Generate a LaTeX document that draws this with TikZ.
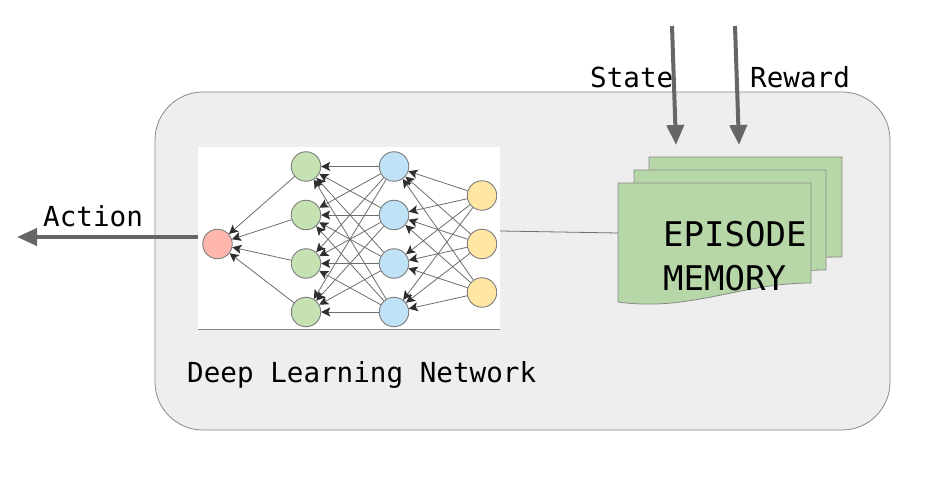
\documentclass[tikz,border=0pt]{standalone}
\usepackage{fontspec}
\setmonofont{DejaVu Sans Mono}
\usetikzlibrary{arrows.meta}
\definecolor{boxfill}{HTML}{EEEEEE}
\definecolor{boxline}{HTML}{888888}
\definecolor{nred}{HTML}{FFB6AC}
\definecolor{ngreen}{HTML}{C6E2B3}
\definecolor{nblue}{HTML}{C0E2F6}
\definecolor{nyellow}{HTML}{FFE6A3}
\definecolor{memgreen}{HTML}{B8D7A9}
\definecolor{bigarrow}{HTML}{666666}
\definecolor{nnline}{HTML}{6E6E6E}
\definecolor{tipcol}{HTML}{2E2E2E}
\begin{document}
\begin{tikzpicture}[x=1pt,y=-1pt,
  neuron/.style={circle, draw=nnline!90, line width=0.9pt, minimum size=29.5pt, inner sep=0pt},
  nnedge/.style={draw=nnline, line width=0.8pt, -{Stealth[length=9pt,width=9pt,inset=2pt,color=tipcol]}},
  bigarr/.style={draw=bigarrow, line width=4pt, -{Triangle[length=20pt,width=17pt]}},
  lbl/.style={font=\ttfamily\fontsize{27.6}{30}\selectfont, inner sep=0pt},
  memlbl/.style={font=\ttfamily\fontsize{34}{40}\selectfont, inner sep=0pt},
  sheet/.style={fill=memgreen, draw=boxline, line width=0.8pt}]
\useasboundingbox (0,0) rectangle (936,478);
\fill[white] (0,0) rectangle (936,478);

% agent box
\node[draw=boxline, fill=boxfill, line width=0.8pt, rounded corners=48pt,
      minimum width=735pt, minimum height=338pt, inner sep=0pt] (agent) at (522.5,261) {};

% network panel
\node[fill=white, minimum width=302pt, minimum height=182pt, inner sep=0pt] (panel) at (349,238) {};
\draw[boxline, line width=0.8pt] (panel.south west) -- (panel.south east);

% neurons
\node[neuron, fill=nred] (r) at (217.5,244) {};
\foreach \i/\yy in {1/166.5,2/215,3/263.5,4/312} {
  \node[neuron, fill=ngreen] (g\i) at (306,\yy) {};
  \node[neuron, fill=nblue] (b\i) at (394,\yy) {};
}
\foreach \i/\yy in {1/195.5,2/244,3/292.5} {
  \node[neuron, fill=nyellow] (y\i) at (482,\yy) {};
}

% edges
\foreach \i in {1,...,4} { \draw[nnedge] (g\i) -- (r); }
\foreach \i in {1,...,4} { \foreach \j in {1,...,4} { \draw[nnedge] (b\j) -- (g\i); } }
\foreach \i in {1,...,4} { \foreach \j in {1,...,3} { \draw[nnedge] (y\j) -- (b\i); } }

\node[lbl, anchor=base west] (dln) at (187,382) {Deep Learning Network};

% memory sheets
\draw[sheet] (649,157) -- (842,157) -- (842,257) .. controls (800,257) and (760,262) .. (700,262) -- (649,262) -- cycle;
\draw[sheet] (634,170) -- (826,170) -- (826,270) .. controls (790,270) and (760,276) .. (700,278) -- (634,280) -- cycle;
\draw[sheet] (618,183) -- (811,183) -- (811,283) .. controls (740,283) and (690,312) .. (618,302) -- cycle;
\coordinate (memw) at (618,233);
\node[memlbl, anchor=base west] (ep) at (663,247) {EPISODE};
\node[memlbl, anchor=base west] (mem) at (663,290) {MEMORY};

% connection network -> memory
\draw[nnline, line width=0.8pt] (panel.east |- 0,231) -- (memw);

% action arrow
\coordinate (actend) at (17,237);
\draw[bigarr] (panel.west |- 0,237) -- (actend);
\node[lbl, anchor=base west] (act) at (43,226) {Action};

% state / reward arrows
\coordinate (st0) at (672,26);
\coordinate (st1) at (676,145);
\coordinate (rw0) at (735,26);
\coordinate (rw1) at (739,145);
\draw[bigarr] (st0) -- (st1);
\draw[bigarr] (rw0) -- (rw1);
\node[lbl, anchor=base west] (st) at (590,88) {State};
\node[lbl, anchor=base west] (rw) at (750,88) {Reward};
\end{tikzpicture}
\end{document}
